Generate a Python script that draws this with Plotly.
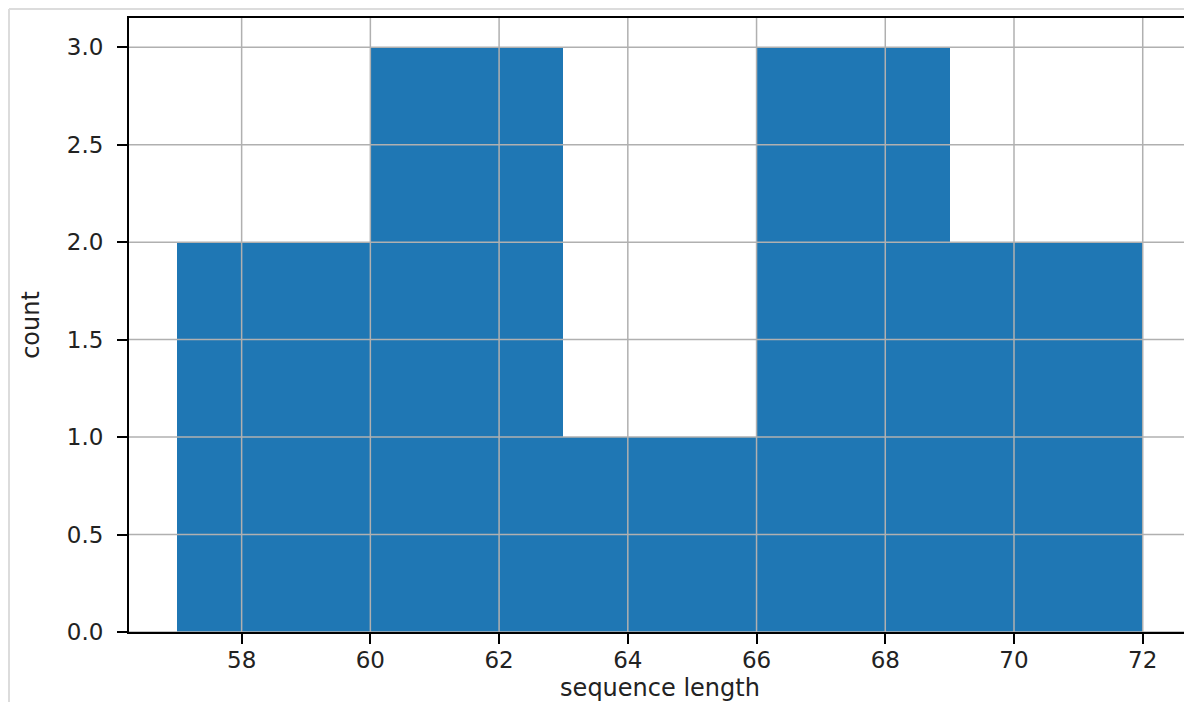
import plotly.graph_objects as go

# histogram data
bin_edges = [57, 60, 63, 66, 69, 72]
counts = [2, 3, 1, 3, 2]
x_ticks = [58, 60, 62, 64, 66, 68, 70, 72]
y_ticks = [0.0, 0.5, 1.0, 1.5, 2.0, 2.5, 3.0]

centers = [(a + b) / 2 for a, b in zip(bin_edges[:-1], bin_edges[1:])]
widths = [b - a for a, b in zip(bin_edges[:-1], bin_edges[1:])]

fig = go.Figure()
fig.add_trace(go.Bar(x=centers, y=counts, width=widths,
                     marker=dict(color="#1f77b4", line=dict(width=0)),
                     hoverinfo="x+y"))

grid_color = "#b0b0b0"
shapes = []
for xv in x_ticks:
    shapes.append(dict(type="line", xref="x", yref="paper", x0=xv, x1=xv, y0=0, y1=1,
                       line=dict(color=grid_color, width=1.5), layer="above"))
for yv in y_ticks:
    shapes.append(dict(type="line", xref="paper", yref="y", x0=0, x1=1, y0=yv, y1=yv,
                       line=dict(color=grid_color, width=1.5), layer="above"))
# screenshot frame lines
shapes.append(dict(type="line", xref="paper", yref="paper", x0=-0.113, x1=-0.113, y0=1.0147, y1=-0.12,
                   line=dict(color="#dcdcdc", width=2), layer="below"))
shapes.append(dict(type="line", xref="paper", yref="paper", x0=-0.113, x1=1.01, y0=1.0147, y1=1.0147,
                   line=dict(color="#dcdcdc", width=2), layer="below"))

# page body has an 8px margin, so the figure is sized to fill the rest of the window
fig.update_layout(
    width=1184, height=694,
    margin=dict(l=121, r=1, t=10, b=70, autoexpand=False),
    paper_bgcolor="white", plot_bgcolor="white",
    font=dict(family="DejaVu Sans", size=23, color="#222222"),
    showlegend=False, bargap=0,
    shapes=shapes,
)
fig.update_xaxes(range=[56.25, 72.75], tickvals=x_ticks, ticktext=[str(v) for v in x_ticks],
                 showgrid=False, zeroline=False, showline=True, linecolor="black", linewidth=2,
                 mirror=True, ticks="outside", ticklen=10, tickwidth=1.5, tickcolor="black",
                 layer="above traces", automargin=False, ticklabelstandoff=-4,
                 title=dict(text="sequence length", font=dict(size=24), standoff=8))
fig.update_yaxes(range=[0, 3.15], tickvals=y_ticks, ticktext=[f"{v:.1f}" for v in y_ticks],
                 showgrid=False, zeroline=False, showline=True, linecolor="black", linewidth=2,
                 mirror=True, ticks="outside", ticklen=10, tickwidth=1.5, tickcolor="black",
                 layer="above traces", ticklabelstandoff=9, automargin=False,
                 title=dict(text="count", font=dict(size=24), standoff=20))

fig.write_html("out.html")
